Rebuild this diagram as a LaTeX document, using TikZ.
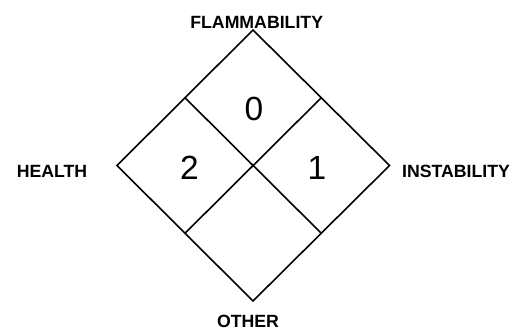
\documentclass[tikz,border=0pt]{standalone}
\usepackage{fontspec}
\setmainfont{Liberation Sans}
\usetikzlibrary{calc}

\begin{document}
\begin{tikzpicture}[x=1pt,y=-1pt,line width=1.6pt,line join=miter,
  label/.style={font=\fontsize{17.7}{20}\selectfont\bfseries, anchor=base, inner sep=0pt, text depth=0pt},
  rating/.style={font=\fontsize{33.5}{38}\selectfont, anchor=base, inner sep=0pt}]
\useasboundingbox (0,0) rectangle (513,332);
% corners of the diamond
\coordinate (top) at (253,30);\coordinate (left) at (117,165.5);
\coordinate (bottom) at (253,301);\coordinate (right) at (389.5,165.5);
\draw (top) -- (right) -- (bottom) -- (left) -- cycle;
% split into four quarters
\draw ($(top)!0.5!(left)$) -- ($(bottom)!0.5!(right)$);
\draw ($(top)!0.5!(right)$) -- ($(bottom)!0.5!(left)$);
\node[label] (flam) at (256.7,28.3) {FLAMMABILITY};
\node[label] (health) at (52,177.3) {HEALTH};
\node[label] (inst) at (456,177.3) {INSTABILITY};
\node[label] (other) at (248,327.5) {OTHER};
\node[rating] (fire) at (254,120.2) {0};
\node[rating] (hlth) at (189.5,179) {2};
\node[rating] (react) at (317,179) {1};
\end{tikzpicture}
\end{document}
